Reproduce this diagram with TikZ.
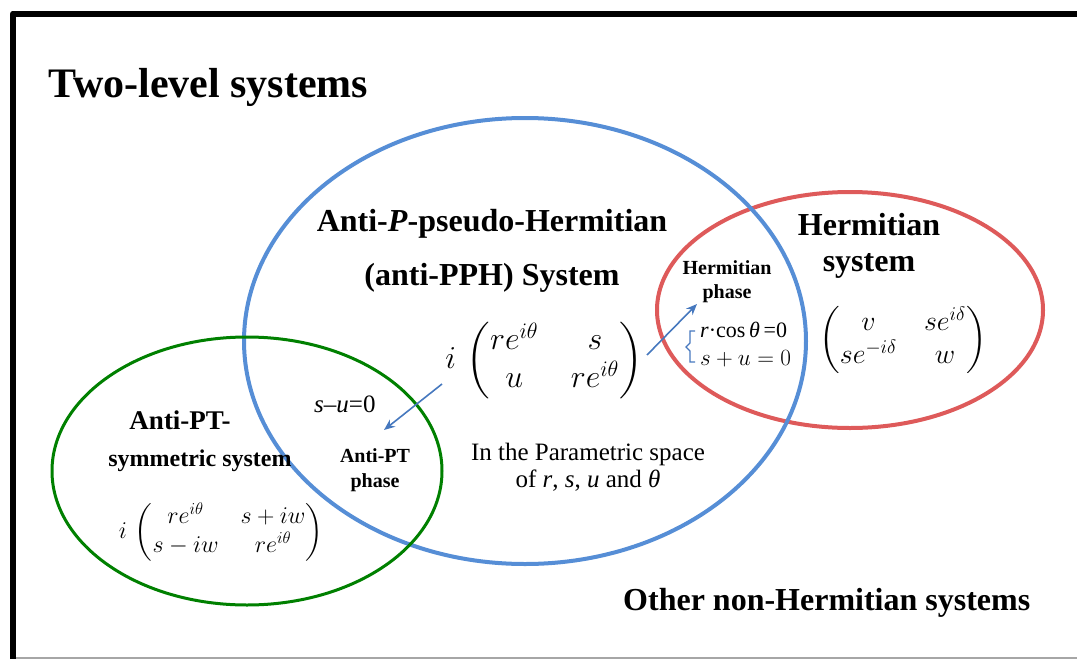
\documentclass[tikz,border=0pt]{standalone}
\usepackage{amsmath}
\usepackage{graphicx}
\usepackage{fontspec}
\setmainfont{Liberation Serif}
\usetikzlibrary{arrows.meta}
\definecolor{bl}{RGB}{86,142,214}
\definecolor{rd}{RGB}{222,90,90}
\definecolor{gr}{RGB}{0,128,0}
\definecolor{arr}{RGB}{70,120,190}
\tikzset{
 title/.style={font=\bfseries\fontsize{42}{48}\selectfont, inner sep=0pt, anchor=base west},
 big/.style={font=\bfseries\fontsize{32}{38}\selectfont, inner sep=0pt, anchor=base},
 mid/.style={font=\bfseries\fontsize{24}{28}\selectfont, inner sep=0pt, anchor=base},
 small/.style={font=\bfseries\fontsize{20}{24}\selectfont, inner sep=0pt, anchor=base},
 plain/.style={font=\fontsize{25}{29}\selectfont, inner sep=0pt, anchor=base},
 cond/.style={font=\fontsize{22}{26}\selectfont, inner sep=0pt, anchor=base west},
 mat/.style={inner sep=0pt, anchor=center, font=\fontsize{20.74}{24}\selectfont},
 setline/.style={line width=4pt},
 link/.style={arr, line width=1.6pt, -{Stealth[length=11pt,width=9pt]}},
}
\begin{document}
\begin{tikzpicture}[x=1pt,y=-1pt]
\useasboundingbox (0,0) rectangle (1077,659);
% frame
\draw[line width=6pt, line join=round] (13,659) -- (13,13.5) -- (1077,13.5);
\draw[black!35, line width=1.5pt] (16,658) -- (1077,658);
% sets
\draw[setline, rd] (850,310) ellipse [x radius=193pt, y radius=118pt];
\draw[setline, bl] (525,341) ellipse [x radius=281pt, y radius=223pt];
\draw[line width=3pt, gr] (247,471) ellipse [x radius=195pt, y radius=134pt];
% titles
\node[title] (ttl) at (48,97) {Two-level systems};
\node[big] (pph1) at (492,231) {Anti-\textit{P}-pseudo-Hermitian};
\node[big] (pph2) at (492,285) {(anti-PPH) System};
\node[big] (her1) at (869,235) {Hermitian};
\node[big] (her2) at (869,271) {system};
\node[big, anchor=base west] (oth) at (623,610) {Other non-Hermitian systems};
\node[mid, font=\bfseries\fontsize{27}{30}\selectfont] (apt1) at (180,429) {Anti-PT-};
\node[mid] (apt2) at (200,466) {symmetric system};
\node[small] (hp1) at (727,274) {Hermitian};
\node[small] (hp2) at (727,298) {phase};
\node[small] (ap1) at (375,462) {Anti-PT};
\node[small] (ap2) at (375,487) {phase};
\node[plain] (ps1) at (588,460) {In the Parametric space};
\node[plain] (ps2) at (588,487) {of \textit{r}, \textit{s}, \textit{u} and \textit{θ}};
\node[plain, anchor=base west] (sur) at (314,412) {\textit{s}–\textit{u}=0};
% matrices
\node[mat] (M) at (544,361) {\scalebox{1.54}{$\arraycolsep=10.5pt i\,\begin{pmatrix} re^{i\theta} & s \\ u & re^{i\theta}\end{pmatrix}$}};
\node[mat] (H) at (903,340) {\scalebox{1.35}{$\arraycolsep=10pt \begin{pmatrix} v & se^{i\delta} \\ se^{-i\delta} & w\end{pmatrix}$}};
\node[mat] (A) at (221,532) {\scalebox{1.16}{$\arraycolsep=9.5pt i\,\begin{pmatrix} re^{i\theta} & s+iw \\ s-iw & re^{i\theta}\end{pmatrix}$}};
% conditions
\node[cond] (c1) at (700,337) {\textit{r}·cos\,\textit{θ}\,=0};
\node[cond] (c2) at (700,365) {\scalebox{1.12}{\fontsize{20.74}{24}\selectfont$s+u=0$}};
\draw[arr, line width=1.2pt] (695,331) -- (690,331) -- (690,343) -- (686,347) -- (690,351) -- (690,362) -- (695,362);
% arrows
\coordinate (a1s) at (442,384);
\coordinate (a1e) at (384,430);
\coordinate (a2s) at (647,355);
\coordinate (a2e) at (697,304);
\draw[link] (a1s) -- (a1e);
\draw[link] (a2s) -- (a2e);
\end{tikzpicture}
\end{document}
